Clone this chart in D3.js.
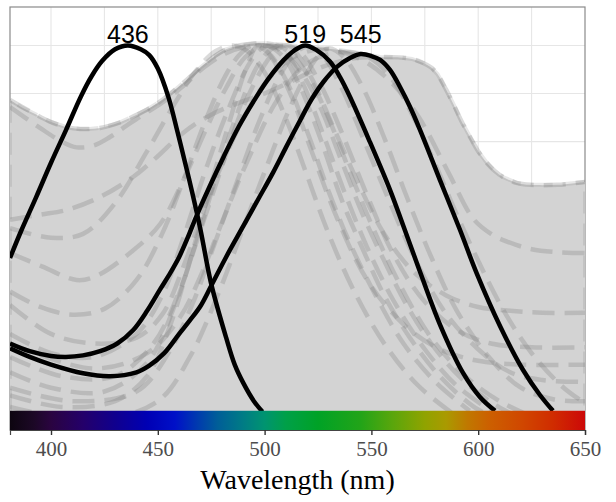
<!DOCTYPE html>
<html><head><meta charset="utf-8">
<script src="https://cdn.jsdelivr.net/npm/d3@7"></script>
<style>html,body{margin:0;padding:0;background:#fff;} svg{display:block}
.serif{font-family:"Liberation Serif","Times New Roman",Times,"DejaVu Serif",serif;}
.sans{font-family:"Liberation Sans",Arial,"DejaVu Sans",sans-serif;}
</style>
</head><body><svg id="chart" width="616" height="502"></svg>
<script>
// ---------- data ----------
const wavelengthTicks = [400, 450, 500, 550, 600, 650];
const gridWavelengths = [400, 425, 450, 475, 500, 525, 550, 575, 600, 625];
const gridLevels = [0, -0.25, -0.5, -0.75, -1, -1.25, -1.5, -1.75];
const peakWavelengths = [436, 519, 545];
const peakLabels = ["436", "519", "545"];
const labelLevel = 0.013;

const cone436 = [[380.8,-1.105],[386,-0.965],[393,-0.79],[400,-0.61],[407,-0.44],[414,-0.265],[419,-0.16],[424,-0.08],[430,-0.02],[436,0],[442,-0.02],[446,-0.05],[450,-0.12],[455,-0.27],[459,-0.44],[463,-0.62],[466,-0.76],[470,-0.96],[475,-1.24],[482,-1.52],[486,-1.66],[490,-1.755],[495,-1.85],[499,-1.905]];
const cone519 = [[380.8,-1.55],[390,-1.59],[400,-1.615],[407,-1.62],[415,-1.612],[423,-1.59],[431,-1.55],[438.5,-1.48],[445,-1.38],[451,-1.27],[456,-1.18],[460,-1.1],[464,-1.0],[468,-0.89],[474,-0.74],[481,-0.575],[488,-0.42],[496,-0.27],[502,-0.17],[509,-0.075],[514,-0.025],[519,0],[524,-0.022],[530.6,-0.084],[535.3,-0.165],[540,-0.268],[549.3,-0.502],[558.7,-0.751],[564.8,-0.934],[572.8,-1.178],[582.2,-1.454],[592.9,-1.703],[600.8,-1.828],[607.9,-1.9]];
const cone545 = [[380.8,-1.575],[390,-1.62],[400,-1.66],[415,-1.705],[427.6,-1.72],[440,-1.7],[446,-1.665],[453,-1.6],[460,-1.5],[465,-1.43],[470,-1.355],[475,-1.25],[482,-1.1],[490,-0.94],[497,-0.8],[504,-0.66],[510,-0.53],[516.6,-0.39],[522,-0.28],[527.5,-0.19],[534,-0.11],[540,-0.065],[545,-0.045],[550,-0.055],[554.1,-0.075],[558.7,-0.127],[563.4,-0.216],[568.1,-0.32],[572.8,-0.44],[582.1,-0.7],[591.5,-0.96],[599.4,-1.188],[610.2,-1.459],[621,-1.688],[628.9,-1.818],[635,-1.9]];

const greyEnvelope = [[380.8,-0.283],[386,-0.32],[391.6,-0.351],[399.5,-0.396],[407,-0.424],[413.6,-0.434],[418,-0.435],[422.9,-0.429],[427,-0.418],[432.3,-0.4],[438.4,-0.37],[445,-0.333],[451,-0.292],[456,-0.25],[461.8,-0.195],[466,-0.155],[470,-0.115],[476,-0.06],[482,-0.02],[488,0],[495,0.01],[500,0.012],[508,0.005],[516,-0.003],[525,-0.012],[535,-0.023],[545,-0.04],[554,-0.06],[563,-0.062],[569,-0.07],[574,-0.09],[578,-0.115],[581,-0.15],[585,-0.23],[588.2,-0.3],[592,-0.39],[596.2,-0.476],[600,-0.55],[604.1,-0.611],[608,-0.655],[611.6,-0.684],[618,-0.715],[624.3,-0.725],[637,-0.725],[650,-0.71]];

const otherA = [[380.8,-0.283],[391.6,-0.351],[399.5,-0.396],[407,-0.424],[413.6,-0.434],[422.9,-0.429],[432.3,-0.4],[438.4,-0.37],[445,-0.333],[451,-0.292],[461.8,-0.195],[470,-0.115],[476,-0.06],[482,-0.02],[488,0],[495,0.01],[500,0.012],[506,0],[512,-0.04],[520,-0.15],[530,-0.38],[540,-0.66],[550,-0.93],[560,-1.17],[570,-1.38],[580,-1.55],[595,-1.73],[610,-1.85],[625,-1.93]];
const otherB = [[380.8,-0.32],[395,-0.43],[405,-0.5],[412,-0.53],[420,-0.52],[427.6,-0.476],[435,-0.42],[441.7,-0.37],[451,-0.305],[462,-0.21],[472,-0.11],[482,-0.04],[492,-0.005],[500,0],[508,-0.03],[516,-0.12],[526,-0.32],[536,-0.6],[546,-0.88],[556,-1.12],[566,-1.34],[578,-1.55],[592,-1.73],[608,-1.87],[622,-1.95]];
const otherC = [[380.8,-0.907],[395,-0.88],[407.5,-0.855],[423,-0.788],[438.4,-0.684],[449.6,-0.58],[461.8,-0.455],[475,-0.36],[490,-0.29],[500,-0.25],[512,-0.19],[525,-0.12],[540,-0.07],[554,-0.06],[563,-0.062],[569,-0.07],[574,-0.09],[578,-0.115],[581,-0.15],[585,-0.23],[588.2,-0.3],[592,-0.39],[596.2,-0.476],[600,-0.55],[604.1,-0.611],[608,-0.655],[611.6,-0.684],[618,-0.715],[624.3,-0.725],[637,-0.725],[650,-0.71]];
const otherD = [[380.8,-1.35],[400,-1.5],[420,-1.55],[440,-1.52],[452,-1.4],[462,-1.15],[470,-0.9],[480,-0.62],[490,-0.38],[500,-0.2],[512,-0.07],[525,-0.02],[535,-0.03],[548,-0.09],[560,-0.2],[572,-0.37],[586,-0.66],[597.6,-0.9],[606,-0.98],[613.5,-1.02],[625,-1.06],[637,-1.075],[650,-1.08]];
const otherE = [[380.8,-1.08],[396,-1.15],[412,-1.22],[421,-1.2],[438,-1.07],[451,-0.93],[462,-0.7],[472,-0.45],[482,-0.22],[491,-0.06],[500,0],[508,-0.05],[516,-0.2],[526,-0.48],[536,-0.8],[546,-1.06],[556,-1.3],[568,-1.52],[582,-1.72],[598,-1.88],[610,-1.95]];
const otherF = [[380.8,-1.28],[395,-1.36],[410,-1.4],[425,-1.37],[440,-1.22],[452,-0.98],[462,-0.7],[472,-0.4],[482,-0.15],[489,-0.04],[495,0],[502,-0.04],[510,-0.18],[520,-0.45],[530,-0.76],[540,-1.03],[552,-1.3],[565,-1.55],[580,-1.75],[596,-1.9]];
const otherG = [[380.8,-1.5],[400,-1.6],[420,-1.62],[440,-1.5],[452,-1.3],[462,-1.0],[472,-0.66],[482,-0.36],[492,-0.11],[498,-0.02],[503,0],[510,-0.04],[518,-0.2],[528,-0.48],[538,-0.78],[548,-1.05],[560,-1.32],[575,-1.58],[590,-1.77],[606,-1.9]];
const otherH = [[380.8,-1.7],[400,-1.78],[425,-1.8],[445,-1.65],[458,-1.35],[468,-1.02],[478,-0.66],[488,-0.33],[497,-0.1],[503,-0.02],[508,0],[514,-0.03],[522,-0.17],[532,-0.42],[544,-0.72],[556,-0.98],[570,-1.18],[585,-1.3],[600,-1.36],[615,-1.38],[630,-1.39],[650,-1.39]];
const otherI = [[380.8,-1.62],[405,-1.72],[430,-1.72],[448,-1.55],[460,-1.28],[470,-0.96],[480,-0.63],[490,-0.32],[500,-0.1],[505,-0.03],[510,0],[517,-0.04],[526,-0.2],[536,-0.45],[548,-0.78],[560,-1.08],[574,-1.32],[590,-1.48],[606,-1.55],[625,-1.57],[650,-1.57]];
const otherJ = [[380.8,-1.82],[405,-1.88],[430,-1.85],[445,-1.72],[455,-1.48],[465,-1.12],[475,-0.72],[484,-0.38],[491,-0.13],[497,0],[503,-0.06],[512,-0.25],[522,-0.55],[534,-0.9],[548,-1.22],[565,-1.45],[582,-1.58],[600,-1.64],[620,-1.66],[650,-1.66]];
const otherK = [[380.8,-1.78],[410,-1.85],[440,-1.8],[455,-1.6],[466,-1.35],[476,-1.05],[488,-0.68],[498,-0.38],[507,-0.16],[514,-0.045],[520,-0.005],[527,-0.05],[536,-0.22],[546,-0.48],[558,-0.8],[570,-1.1],[584,-1.38],[600,-1.58],[615,-1.7],[630,-1.74],[650,-1.75]];
const otherL = [[380.8,-1.88],[420,-1.95],[450,-1.85],[465,-1.62],[478,-1.3],[490,-0.95],[502,-0.6],[512,-0.32],[521,-0.12],[526,-0.045],[530,-0.015],[537,-0.06],[546,-0.22],[556,-0.48],[567,-0.8],[578,-1.1],[590,-1.38],[605,-1.62],[620,-1.78],[635,-1.84],[650,-1.85]];
const otherM = [[380.8,-0.95],[400,-1.0],[415,-0.98],[430,-0.82],[445,-0.55],[458,-0.3],[468,-0.13],[477,-0.03],[485,0],[492,-0.03],[500,-0.14],[510,-0.38],[520,-0.68],[530,-0.98],[542,-1.28],[556,-1.55],[572,-1.77],[590,-1.93]];
const otherN = [[380.8,-1.55],[420,-1.68],[445,-1.6],[460,-1.42],[470,-1.2],[480,-0.92],[492,-0.6],[505,-0.3],[518,-0.11],[530,-0.045],[540,-0.035],[550,-0.07],[560,-0.18],[570,-0.38],[580,-0.62],[590,-0.88],[600,-1.12],[612,-1.38],[625,-1.6],[640,-1.78],[650,-1.86]];

const spectrumWavelengths = [380.8, 392, 400, 415, 430, 445, 458, 468, 478, 490, 500, 510, 525, 545, 560, 575, 585, 595, 605, 620, 635, 650];
const spectrumColors = ["#0d0510","#1c0826","#2a0440","#24006a","#10008e","#0000b4","#0010c8","#0038b0","#005e98","#007c85","#009470","#00a048","#00a226","#22a418","#5aa60c","#90a300","#aa9a00","#c07800","#cc6000","#d04800","#d02c00","#cc0808"];

// ---------- drawing ----------
(function draw() {
  const svg = d3.select("#chart");
  const pL = 10, pR = 585, pT = 7, pB = 430;
  const x = d3.scaleLinear().domain([380.8, 650]).range([pL, pR]);
  const y = d3.scaleLinear().domain([-2, 0.2]).range([pB, pT]);

  svg.append("rect").attr("width", 616).attr("height", 502).attr("fill", "#fff");

  const defs = svg.append("defs");
  defs.append("clipPath").attr("id", "panel")
    .append("rect").attr("x", pL).attr("y", pT).attr("width", pR - pL).attr("height", pB - pT);

  const grad = defs.append("linearGradient").attr("id", "spec")
    .attr("gradientUnits", "userSpaceOnUse")
    .attr("x1", x(380.8)).attr("x2", x(650)).attr("y1", 0).attr("y2", 0);
  spectrumWavelengths.forEach((w, i) => {
    grad.append("stop").attr("offset", (x(w) - x(380.8)) / (x(650) - x(380.8))).attr("stop-color", spectrumColors[i]);
  });

  const g = svg.append("g");
  g.selectAll(".vg").data(gridWavelengths).join("line")
    .attr("x1", d => x(d)).attr("x2", d => x(d)).attr("y1", pT).attr("y2", pB)
    .attr("stroke", "#e6e6e6").attr("stroke-width", 1.1);
  g.selectAll(".hg").data(gridLevels).join("line")
    .attr("x1", pL).attr("x2", pR).attr("y1", d => y(d)).attr("y2", d => y(d))
    .attr("stroke", "#e6e6e6").attr("stroke-width", 1.1);

  svg.append("rect").attr("x", pL).attr("y", pT).attr("width", pR - pL).attr("height", pB - pT)
    .attr("fill", "none").attr("stroke", "#8a8a8a").attr("stroke-width", 1.2);

  const plot = svg.append("g").attr("clip-path", "url(#panel)");
  const line = d3.line().x(d => x(d[0])).y(d => y(d[1])).curve(d3.curveCatmullRom.alpha(0.5));
  const area = d3.area().x(d => x(d[0])).y0(y(-2)).y1(d => y(d[1])).curve(d3.curveCatmullRom.alpha(0.5));

  plot.append("path").datum(greyEnvelope).attr("d", area).attr("fill", "#d3d3d3");

  const others = [otherA, otherB, otherC, otherD, otherE, otherF, otherG, otherH, otherI, otherJ, otherK, otherL, otherM, otherN];
  plot.selectAll(".other").data(others).join("path")
    .attr("d", line).attr("fill", "none")
    .attr("stroke", "#7a7a7a").attr("stroke-opacity", 0.28)
    .attr("stroke-width", 4.5).attr("stroke-dasharray", "22,10");

  const outline = [[380.8, -1.9]].concat(greyEnvelope, [[650, -1.9]]);
  plot.append("path").datum(outline)
    .attr("d", d3.line().x(d => x(d[0])).y(d => y(d[1])).curve(d3.curveLinear))
    .attr("fill", "none").attr("stroke", "#7a7a7a").attr("stroke-opacity", 0.18)
    .attr("stroke-width", 4).attr("stroke-dasharray", "22,10");

  plot.selectAll(".cone").data([cone436, cone519, cone545]).join("path")
    .attr("d", line).attr("fill", "none").attr("stroke", "#000").attr("stroke-width", 4.5);

  svg.append("rect").attr("x", x(380.8)).attr("width", x(650) - x(380.8))
    .attr("y", y(-1.9)).attr("height", y(-2) - y(-1.9)).attr("fill", "url(#spec)");

  const axis = svg.append("g").attr("transform", `translate(0,${pB})`)
    .call(d3.axisBottom(x).tickValues(wavelengthTicks).tickSize(5).tickPadding(6).tickFormat(d3.format("d")));
  axis.attr("font-family", null).attr("font-size", null);
  axis.select(".domain").attr("stroke", "#444").attr("stroke-width", 1.2);
  axis.selectAll(".tick line").attr("stroke", "#333").attr("stroke-width", 1.4);
  axis.selectAll(".tick text").attr("class", "serif").attr("fill", "#4d4d4d")
    .style("font-size", "21px");

  svg.append("text").attr("class", "serif").attr("x", (pL + pR) / 2).attr("y", 489)
    .attr("text-anchor", "middle").style("font-size", "28px").attr("fill", "#000").text("Wavelength (nm)");

  svg.selectAll(".peak").data(peakWavelengths).join("text")
    .attr("class", "sans").attr("x", d => x(d)).attr("y", y(labelLevel))
    .attr("text-anchor", "middle").style("font-size", "25px").attr("fill", "#000")
    .text((d, i) => peakLabels[i]);
})();
</script>
</body></html>
